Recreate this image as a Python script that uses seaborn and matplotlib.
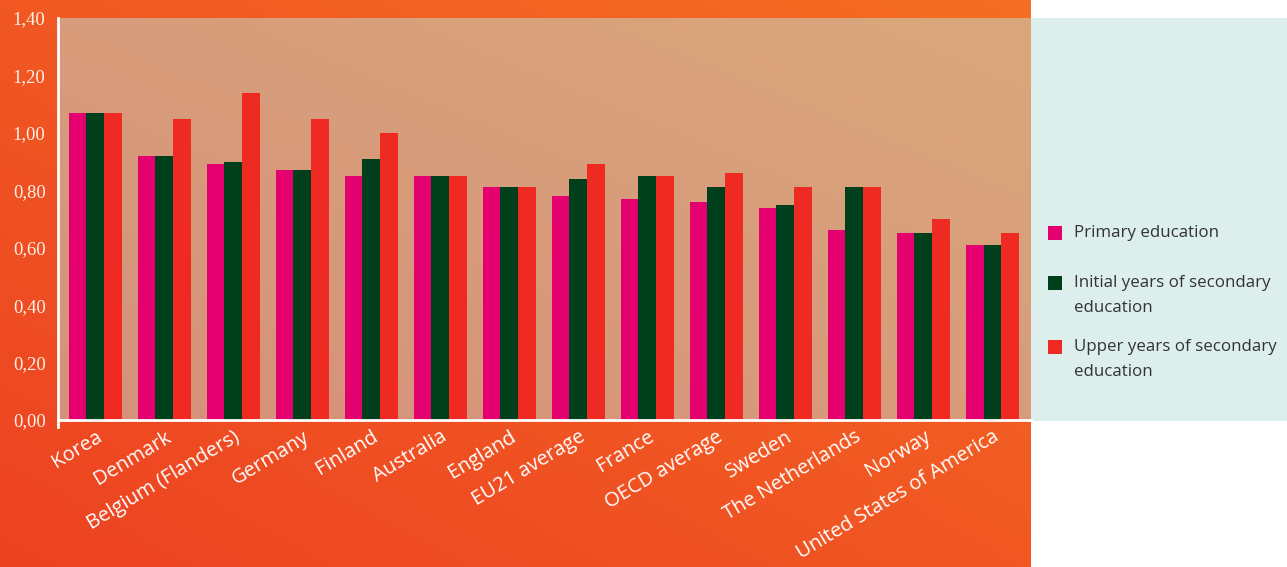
import numpy as np
import pandas as pd
import matplotlib
matplotlib.use("Agg")
import matplotlib.pyplot as plt
import seaborn as sns
from matplotlib.patches import Rectangle
from matplotlib.ticker import FuncFormatter

countries = ['Korea', 'Denmark', 'Belgium (Flanders)', 'Germany', 'Finland', 'Australia',
             'England', 'EU21 average', 'France', 'OECD average', 'Sweden',
             'The Netherlands', 'Norway', 'United States of America']
primary = [1.07, 0.92, 0.89, 0.87, 0.85, 0.85, 0.81, 0.78, 0.77, 0.76, 0.74, 0.66, 0.65, 0.61]
initial_sec = [1.07, 0.92, 0.90, 0.87, 0.91, 0.85, 0.81, 0.84, 0.85, 0.81, 0.75, 0.81, 0.65, 0.61]
upper_sec = [1.07, 1.05, 1.14, 1.05, 1.00, 0.85, 0.81, 0.89, 0.85, 0.86, 0.81, 0.81, 0.70, 0.65]
levels = ['Primary education', 'Initial years of secondary\neducation',
          'Upper years of secondary\neducation']
colors = ['#E5006F', '#003F1C', '#EF2A23']

df = pd.DataFrame({
    'country': countries * 3,
    'value': primary + initial_sec + upper_sec,
    'level': [levels[0]] * 14 + [levels[1]] * 14 + [levels[2]] * 14,
})

sns.set_theme(style="white")
plt.rcParams['font.family'] = ['Open Sans', 'DejaVu Sans']

fig = plt.figure(figsize=(12.87, 5.67), dpi=100)
W, H = 1287, 567

# background: orange gradient for the chart block, teal panel for legend
bg = fig.add_axes([0, 0, 1, 1], zorder=-10)
bg.set_xlim(0, W)
bg.set_ylim(H, 0)
bg.axis('off')
gx, gy = np.meshgrid(np.linspace(0, 1, 200), np.linspace(0, 1, 200))
t = (gx + (1 - gy)) / 2  # 0 bottom-left -> 1 top-right (row 0 = top)
c0 = np.array([237, 66, 34]) / 255
c1 = np.array([245, 110, 34]) / 255
grad = c0 * (1 - t[..., None]) + c1 * t[..., None]
bg.imshow(grad, extent=[0, 1031, H, 0], origin='upper', aspect='auto')
bg.add_patch(Rectangle((1031, 18), W - 1031, 403, facecolor='#DDEFEC', edgecolor='none'))

ax = fig.add_axes([58 / W, 1 - 420 / H, (1031 - 58) / W, (420 - 18) / H])
sns.barplot(data=df, x='country', y='value', hue='level', palette=colors,
            width=0.77, saturation=1, linewidth=0, edgecolor='none', ax=ax, legend=False)

# plot area gradient
pc0 = np.array([213, 145, 122]) / 255
pc1 = np.array([218, 167, 124]) / 255
pg = pc0 * (1 - t[..., None]) + pc1 * t[..., None]
ax.imshow(pg, extent=[-0.54, 13.56, 0, 1.4], origin='upper', aspect='auto', zorder=0)
ax.set_xlim(-0.54, 13.56)
ax.set_ylim(0, 1.4)
for p in ax.patches:
    p.set_zorder(2)

ax.set_yticks(np.arange(0, 1.41, 0.2))
ax.yaxis.set_major_formatter(FuncFormatter(lambda v, _: f'{v:.2f}'.replace('.', ',')))
ax.set_xlabel('')
ax.set_ylabel('')
for s in ['top', 'right']:
    ax.spines[s].set_visible(False)
for s in ['left', 'bottom']:
    ax.spines[s].set_color('white')
    ax.spines[s].set_linewidth(2)
ax.spines['left'].set_bounds(-0.025, 1.4)

ax.tick_params(axis='y', colors='white', length=5, width=1.5, direction='out', pad=4,
               labelsize=13.5, labelcolor='#FDF0E6')
for lab in ax.get_yticklabels():
    lab.set_family(['Liberation Serif', 'DejaVu Serif'])
ax.tick_params(axis='x', length=0, pad=5, labelsize=14.5, labelcolor='white')
for lab in ax.get_xticklabels():
    lab.set_rotation(31)
    lab.set_ha('right')
    lab.set_rotation_mode('anchor')

# legend in the teal panel
legend_y = [226, 276, 340]
for c, lab, y in zip(colors, levels, legend_y):
    bg.add_patch(Rectangle((1048, y), 14, 14, facecolor=c, edgecolor='none'))
    bg.text(1074, y - 1, lab, ha='left', va='top', fontsize=12.2, color='#333333',
            linespacing=1.75)

fig.savefig('out.png', dpi=100)
